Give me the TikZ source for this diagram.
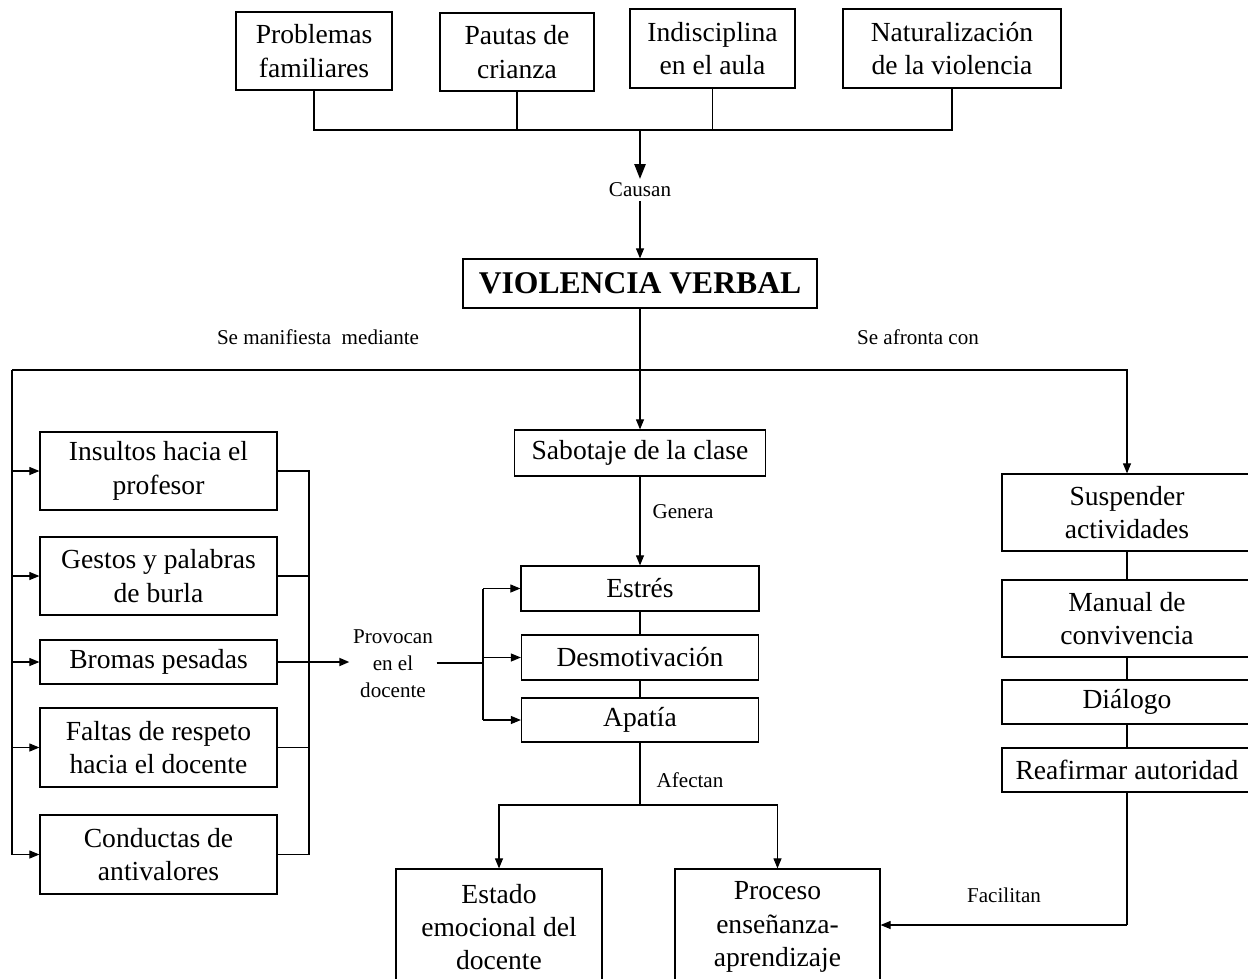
\documentclass[tikz,border=0pt]{standalone}
\usepackage{fontspec}
\setmainfont{Liberation Serif}
\usetikzlibrary{positioning, arrows.meta, calc}
\tikzset{
  caja/.style={draw, line width=0.7pt, align=center, inner sep=2pt, font=\fontsize{15.7}{19}\selectfont},
  etiqueta/.style={align=center, inner sep=2pt, font=\fontsize{12}{15.3}\selectfont},
  linea/.style={line width=0.6pt},
  gruesa/.style={line width=1.4pt},
  flecha/.style={linea, -{Triangle[length=2mm,width=1.6mm]}},
}

\begin{document}
\begin{tikzpicture}[x=0.02cm, y=-0.02cm]
    \useasboundingbox (0,0) rectangle (1248,978);

    % ==========================================
    % CAUSAS
    % ==========================================
    \node[caja, minimum width=3.12cm, minimum height=1.56cm] (problemas) at (314,51) {Problemas\\familiares};
    \node[caja, minimum width=3.08cm, minimum height=1.56cm] (pautas) at (517,52) {Pautas de\\crianza};
    \node[caja, minimum width=3.3cm, minimum height=1.58cm] (indisciplina) at (712.5,48.5) {Indisciplina\\en el aula};
    \node[caja, minimum width=4.36cm, minimum height=1.58cm] (naturaliza) at (952,48.5) {Naturalización\\de la violencia};

    \coordinate (bus) at (640,130);
    \draw[linea] (problemas.south) -- (problemas.south |- bus) -- (naturaliza.south |- bus) -- (naturaliza.south);
    \draw[linea] (pautas.south) -- (pautas.south |- bus);
    \draw[linea] (indisciplina.south) -- (indisciplina.south |- bus);

    \node[etiqueta] (causan) at (640,190) {Causan};
    \draw[gruesa, -{Triangle[length=3mm,width=2.2mm]}] (bus) -- (causan.north);

    \node[caja, minimum width=7.08cm, minimum height=0.98cm, font=\fontsize{18}{21}\selectfont\bfseries] (violencia) at (640,283.5) {VIOLENCIA VERBAL};
    \draw[flecha] (causan.south) -- (violencia.north);

    % ==========================================
    % REPARTO
    % ==========================================
    \coordinate (cruce) at (640,370);
    \coordinate (izq) at (12,370);
    \draw[gruesa] (violencia.south) -- (cruce) -- (izq);

    \node[etiqueta] (manifiesta) at (318,337) {Se manifiesta\ \ mediante};
    \node[etiqueta] (afronta) at (918,337) {Se afronta con};

    % ==========================================
    % MANIFESTACIONES
    % ==========================================
    \node[caja, minimum width=4.74cm, minimum height=1.56cm] (insultos) at (158.5,471) {Insultos hacia el\\profesor};
    \node[caja, minimum width=4.74cm, minimum height=1.56cm] (gestos) at (158.5,576) {Gestos y palabras\\de burla};
    \node[caja, minimum width=4.74cm, minimum height=0.88cm] (bromas) at (158.5,662) {Bromas pesadas};
    \node[caja, minimum width=4.74cm, minimum height=1.58cm] (faltas) at (158.5,747.5) {Faltas de respeto\\hacia el docente};
    \node[caja, minimum width=4.74cm, minimum height=1.58cm] (conductas) at (158.5,854.5) {Conductas de\\antivalores};

    \draw[flecha] (izq) |- (conductas.west);
    \foreach \n in {insultos, gestos, bromas, faltas}
        \draw[flecha] (izq |- \n.west) -- (\n.west);

    \coordinate (colector) at (309,662);
    \draw[linea] (insultos.east) -- (insultos.east -| colector) -- (conductas.east -| colector) -- (conductas.east);
    \foreach \n in {gestos, bromas, faltas}
        \draw[linea] (\n.east) -- (\n.east -| colector);

    \node[etiqueta] (provocan) at (393,664) {Provocan\\en el\\docente};
    \draw[flecha, line width=1pt] (colector) -- (colector -| provocan.west);

    % ==========================================
    % EFECTOS
    % ==========================================
    \node[caja, minimum width=5.02cm, minimum height=0.92cm] (sabotaje) at (640,453) {Sabotaje de la clase};
    \draw[flecha] (cruce) -- (sabotaje.north);

    \node[caja, minimum width=4.76cm, minimum height=0.9cm] (estres) at (640,588.5) {Estrés};
    \node[caja, minimum width=4.74cm, minimum height=0.9cm] (desmotivacion) at (640,657.5) {Desmotivación};
    \node[caja, minimum width=4.74cm, minimum height=0.88cm] (apatia) at (640,720) {Apatía};

    \draw[flecha] (sabotaje.south) -- (estres.north);
    \node[etiqueta] (genera) at (683,512) {Genera};
    \draw[linea] (estres.south) -- (desmotivacion.north);
    \draw[linea] (desmotivacion.south) -- (apatia.north);

    \coordinate (reparto) at (483,663);
    \draw[linea] (provocan.east |- reparto) -- (reparto);
    \draw[linea] (reparto |- estres.west) -- (reparto |- apatia.west);
    \foreach \n in {estres, desmotivacion, apatia}
        \draw[flecha] (reparto |- \n.west) -- (\n.west);

    \node[caja, minimum width=4.12cm, minimum height=2.32cm] (estado) at (499,927) {Estado\\emocional del\\docente};
    \node[caja, minimum width=4.1cm, minimum height=2.32cm] (proceso) at (777.5,927) {Proceso\\enseñanza-\\aprendizaje};

    \coordinate (afecta) at (640,805);
    \draw[gruesa] (apatia.south) -- (afecta);
    \node[etiqueta] (afectan) at (690,780) {Afectan};
    \draw[flecha] (afecta) -| (estado.north);
    \draw[flecha] (afecta) -| (proceso.north);

    % ==========================================
    % AFRONTAMIENTO
    % ==========================================
    \node[caja, minimum width=5cm, minimum height=1.54cm] (suspender) at (1127,512.5) {Suspender\\actividades};
    \node[caja, minimum width=5cm, minimum height=1.54cm] (manual) at (1127,618.5) {Manual de\\convivencia};
    \node[caja, minimum width=5cm, minimum height=0.88cm] (dialogo) at (1127,702) {Diálogo};
    \node[caja, minimum width=5cm, minimum height=0.88cm] (reafirmar) at (1127,770) {Reafirmar autoridad};

    \draw[flecha] (cruce) -| (suspender.north);
    \draw[linea] (suspender.south) -- (manual.north);
    \draw[linea] (manual.south) -- (dialogo.north);
    \draw[linea] (dialogo.south) -- (reafirmar.north);

    \coordinate (facilita) at (1127,925);
    \draw[linea] (reafirmar.south) -- (facilita);
    \draw[flecha] (facilita) -- (facilita -| proceso.east);
    \node[etiqueta] (facilitan) at (1004,895) {Facilitan};

\end{tikzpicture}
\end{document}
